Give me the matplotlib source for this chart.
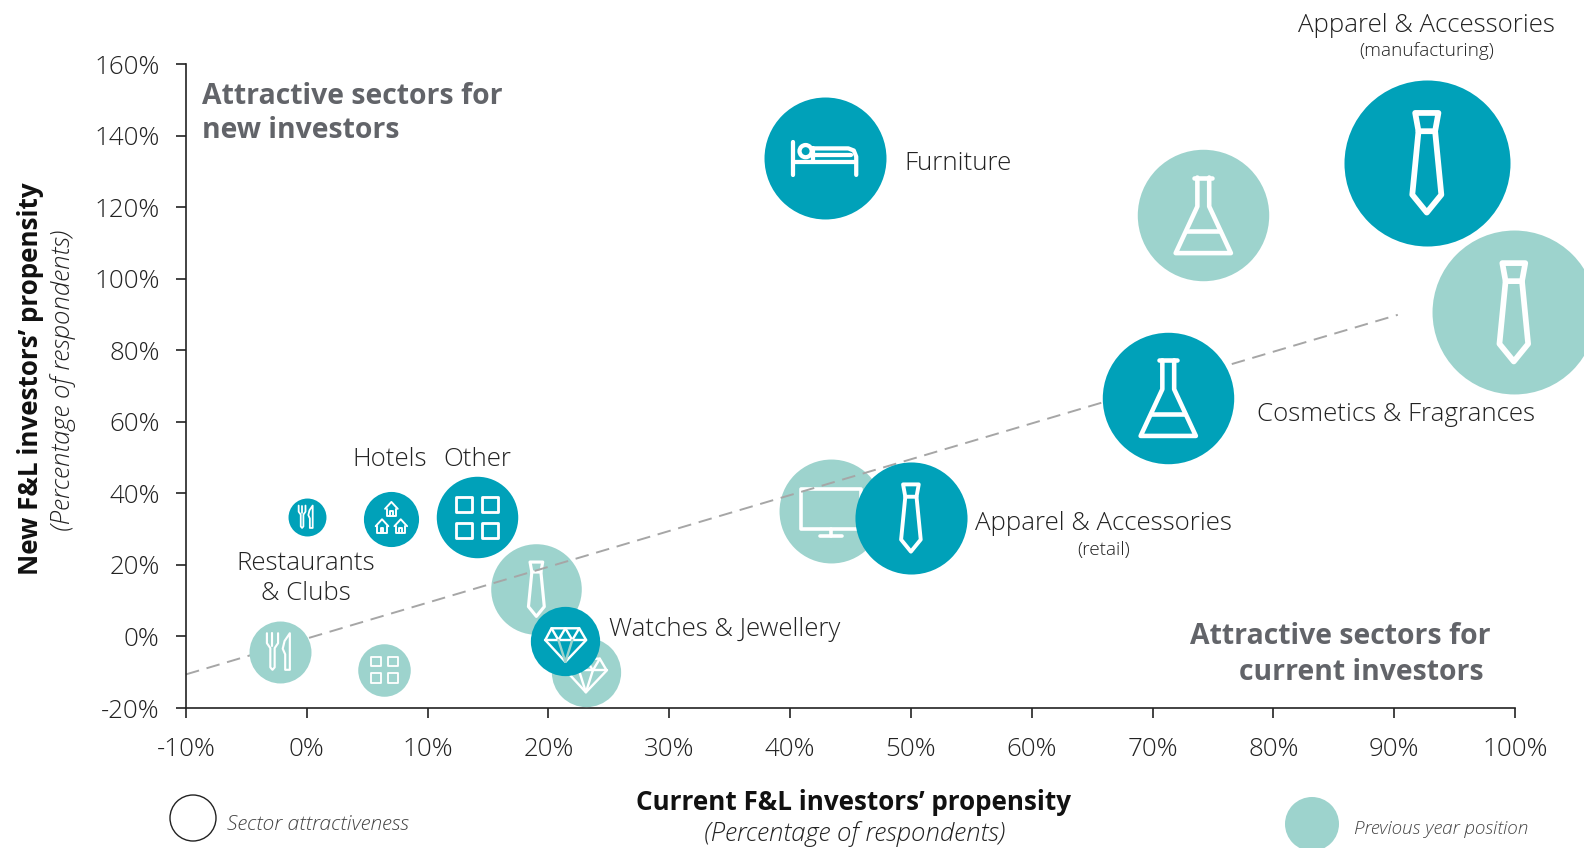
import numpy as np
import matplotlib
matplotlib.use("Agg")
import matplotlib.pyplot as plt
from matplotlib.path import Path
from matplotlib.patches import PathPatch, Circle
from matplotlib.transforms import Affine2D, ScaledTranslation, IdentityTransform

plt.rcParams['font.family'] = ['Open Sans', 'DejaVu Sans']

# ---- data ----
x_ticks = [-10, 0, 10, 20, 30, 40, 50, 60, 70, 80, 90, 100]
y_ticks = [-20, 0, 20, 40, 60, 80, 100, 120, 140, 160]

cur_sector = ["Restaurants", "Hotels", "Other", "Watches", "Retail", "Furniture", "Cosmetics", "Manufacturing"]
cur_x = [0.0, 7.0, 14.1, 21.4, 50.0, 42.9, 71.3, 92.7]
cur_y = [33.4, 32.9, 33.3, -1.3, 33.1, 133.6, 66.7, 132.4]
cur_size = [3.6, 7.6, 16.6, 12.0, 31.4, 37.2, 43.2, 68.9]
cur_icon = ["cutlery", "houses", "grid", "diamond", "tie", "bed", "flask", "tie"]

prev_sector = ["Restaurants", "Other", "Retail", "Watches", "Furniture", "Cosmetics", "Manufacturing"]
prev_x = [-2.2, 6.4, 19.0, 23.1, 43.4, 74.2, 99.9]
prev_y = [-4.3, -9.4, 13.2, -9.8, 35.1, 117.8, 90.6]
prev_size = [9.6, 6.9, 20.5, 12.0, 27.0, 43.2, 67.2]
prev_icon = ["cutlery", "grid", "tie", "diamond", "tv", "flask", "tie"]
prev_over_line = [True, True, False, True, False, True, True]

parity_x = [-10, 90.3]
parity_y = [-10.6, 89.9]

DARK = "#00A1B9"
PALE = "#9DD3CD"
INK = "#222222"
GREY = "#626469"
W, H = 1584, 848

fig = plt.figure(figsize=(W / 100, H / 100), dpi=100, facecolor="white")
ax = fig.add_axes([186 / W, 1 - 708 / H, (1515 - 186) / W, (708 - 64) / H])
ax.set_xlim(-10, 100)
ax.set_ylim(-20, 160)
ax.set_xticks(x_ticks, [f"{v}%" for v in x_ticks])
ax.set_yticks(y_ticks, [f"{v}%" for v in y_ticks])
for s in ("top", "right"):
    ax.spines[s].set_visible(False)
for s in ("left", "bottom"):
    ax.spines[s].set_linewidth(1.2)
    ax.spines[s].set_color("#222222")
ax.tick_params(axis="x", length=7, width=1.2, color="#222222", pad=14,
               labelsize=18.6, labelcolor=INK)
ax.tick_params(axis="y", length=7, width=1.2, color="#222222", pad=12,
               labelsize=18.6, labelcolor=INK)
for lab in ax.get_xticklabels() + ax.get_yticklabels():
    lab.set_fontweight("light")


# ---- icons, in units of the bubble radius ----
def poly(pts, closed=False):
    pts = list(pts)
    codes = [Path.MOVETO] + [Path.LINETO] * (len(pts) - 1)
    if closed:
        pts.append(pts[0])
        codes.append(Path.CLOSEPOLY)
    return Path(pts, codes)


def box(x0, y0, x1, y1):
    return poly([(x0, y0), (x1, y0), (x1, y1), (x0, y1)], True)


def house(cx, cy):
    return [
        poly([(cx - .23, cy + .02), (cx, cy + .27), (cx + .23, cy + .02)]),
        poly([(cx - .17, cy + .02), (cx - .17, cy - .24), (cx + .17, cy - .24), (cx + .17, cy + .02)]),
        poly([(cx - .05, cy - .24), (cx - .05, cy - .06), (cx + .05, cy - .06), (cx + .05, cy - .24)]),
    ]


ICONS = {
    "tie": [
        poly([(-.14, .6), (.14, .6), (.1, .38), (-.1, .38)], True),
        poly([(-.1, .38), (-.175, -.385), (0, -.6), (.175, -.385), (.1, .38)]),
    ],
    "flask": [
        poly([(-.14, .57), (.14, .57)]),
        poly([(-.09, .57), (-.09, .13), (-.42, -.58), (.42, -.58), (.09, .13), (.09, .57)]),
        poly([(-.26, -.24), (.26, -.24)]),
    ],
    "bed": [
        poly([(-.52, .27), (-.52, -.27)]),
        poly([(-.52, -.065), (.51, -.065)]),
        poly([(-.2, .165), (.38, .165), (.47, .13), (.51, .03), (.51, -.27)]),
        poly([(-.2, .055), (.42, .055)]),
        Path.circle((-.32, .12), .1),
        poly([(-.2, .165), (-.2, -.065)]),
    ],
    "cutlery": [
        poly([(-.43, .6), (-.43, .28), (-.32, .12), (-.32, -.5), (-.25, -.58),
              (-.18, -.5), (-.18, .12), (-.07, .28), (-.07, .6)]),
        poly([(-.25, .6), (-.25, .2)]),
        poly([(.31, .6), (.31, -.58), (.16, -.58), (.16, -.08), (.08, .1), (.14, .35)], True),
    ],
    "houses": house(0, .34) + house(-.34, -.29) + house(.34, -.29),
    "grid": [box(-.51, .14, -.12, .5), box(.13, .14, .52, .5),
             box(-.51, -.51, -.12, -.13), box(.13, -.51, .52, -.13)],
    "diamond": [
        poly([(-.4, .37), (.4, .37), (.6, .03), (0, -.6), (-.58, .03)], True),
        poly([(-.58, .03), (.6, .03)]),
        poly([(-.4, .37), (-.2, .03), (0, .37), (.2, .03), (.4, .37)]),
        poly([(-.2, .03), (0, -.6), (.2, .03)]),
    ],
    "tv": [
        box(-.58, -.35, .58, .42),
        poly([(-.21, -.48), (.2, -.48)]),
        poly([(0, -.35), (0, -.48)]),
    ],
}


def bubble(x, y, size, icon, color, z):
    r = 10 * np.sqrt(size)
    ax.scatter([x], [y], s=(2 * r * 0.72) ** 2, c=color, linewidths=0, zorder=z, clip_on=False)
    tr = Affine2D().scale(r) + ScaledTranslation(x, y, ax.transData)
    paths = ICONS[icon]
    for i, p in enumerate(paths):
        stroke = "white"
        if icon == "diamond" and color == DARK and i == len(paths) - 1:
            stroke = PALE
        ax.add_patch(PathPatch(p, transform=tr, fill=False, edgecolor=stroke,
                               lw=max(1.3, r * 0.05), capstyle="round", joinstyle="round",
                               zorder=z + 0.1, clip_on=False))


for xv, yv, sv, ic, over in zip(prev_x, prev_y, prev_size, prev_icon, prev_over_line):
    bubble(xv, yv, sv, ic, PALE, 3 if over else 1)
ax.plot(parity_x, parity_y, color="#A6A6A6", lw=1.4, dashes=(7, 4), zorder=2, clip_on=False)
for xv, yv, sv, ic in zip(cur_x, cur_y, cur_size, cur_icon):
    bubble(xv, yv, sv, ic, DARK, 4)


# ---- text, placed in reference pixels ----
def txt(px, py, s, size=18.6, weight="light", style="normal", color=INK, ha="left", rot=0):
    if rot:
        px += 3
    else:
        py += 3
    fig.text(px / W, 1 - py / H, s, fontsize=size, fontweight=weight, fontstyle=style,
             color=color, ha=ha, va="center", rotation=rot, rotation_mode="anchor")


txt(1426.5, 22, "Apparel & Accessories", ha="center")
txt(1426.5, 47.5, "(manufacturing)", size=13.7, ha="center")
txt(202, 94, "Attractive sectors for", size=20.4, weight="bold", color=GREY)
txt(202, 128, "new investors", size=20.4, weight="bold", color=GREY)
txt(904, 160, "Furniture")
txt(1257, 412, "Cosmetics & Fragrances")
txt(975, 520, "Apparel & Accessories")
txt(1104, 546.5, "(retail)", size=13.7, ha="center")
txt(390, 456, "Hotels", ha="center")
txt(477, 456, "Other", ha="center")
txt(306, 560, "Restaurants", ha="center")
txt(306, 590, "& Clubs", ha="center")
txt(609, 627, "Watches & Jewellery")
txt(1491, 634, "Attractive sectors for", size=20.4, weight="bold", color=GREY, ha="right")
txt(1484, 669, "current investors", size=20.4, weight="bold", color=GREY, ha="right")
txt(854, 799, "Current F&L investors\u2019 propensity", size=18.7, weight="bold", color="#111111", ha="center")
txt(855, 831, "(Percentage of respondents)", size=18.6, style="italic", ha="center")
txt(28, 379, "New F&L investors\u2019 propensity", size=18.7, weight="bold", color="#111111", ha="center", rot=90)
txt(60.5, 380, "(Percentage of respondents)", size=18.6, style="italic", ha="center", rot=90)
txt(227, 822, "Sector attractiveness", size=15.2, style="italic", color="#444444")
txt(1354, 826, "Previous year position", size=13.6, style="italic", color="#444444")

fig.add_artist(Circle((193, H - 818), 23, transform=IdentityTransform(), fill=False,
                      edgecolor="#222222", lw=1.0))
fig.add_artist(Circle((1312, H - 824), 27, transform=IdentityTransform(), facecolor=PALE,
                      edgecolor="none"))

fig.savefig("out.png", dpi=100)
